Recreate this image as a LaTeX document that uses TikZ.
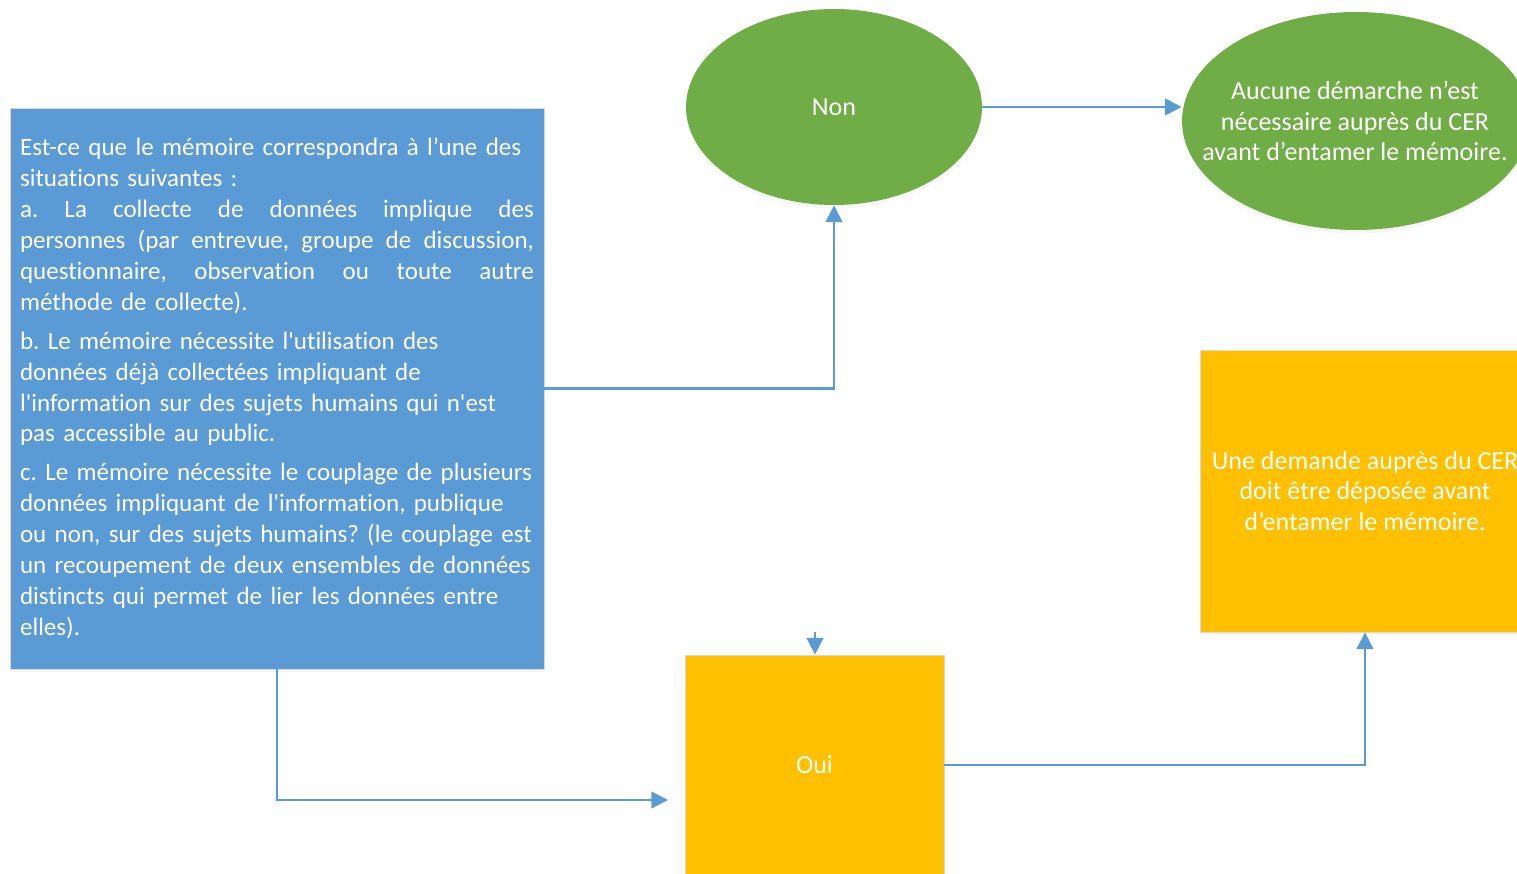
\documentclass[tikz,border=0pt]{standalone}
\usepackage{fontspec}
\setmainfont{Carlito}[Ligatures=NoCommon]
\usetikzlibrary{arrows.meta,shapes.geometric,shadows}
\definecolor{cblue}{HTML}{5B9BD5}
\definecolor{cgreen}{HTML}{70AD47}
\definecolor{cyell}{HTML}{FFC000}
\newcommand{\jline}[1]{\leavevmode\hbox to 10.28cm{#1}}
\begin{document}
\frenchspacing
\begin{tikzpicture}[x=0.02cm,y=-0.02cm,
  smallfont/.style={text=white, font=\fontsize{14.25}{17.6}\selectfont\frenchspacing},
  bigfont/.style={text=white, font=\fontsize{14.8}{17.6}\selectfont\frenchspacing},
  shad/.style={drop shadow={opacity=0.07, shadow xshift=0pt, shadow yshift=-2pt}},
  box/.style={rectangle, inner sep=0pt, draw=black!15, line width=0.5pt, shad},
  ell/.style={ellipse, inner sep=0pt, fill=cgreen, draw=none, shad},
  lbl/.style={bigfont, inner sep=0pt, align=center},
  conn/.style={draw=cblue, line width=1.2pt, -{Triangle[length=9.5pt,width=9.5pt]}}]
\useasboundingbox (0,0) rectangle (1517,874);
\clip (0,0) rectangle (1517,874);

\node[box, smallfont, fill=cblue, minimum width=10.68cm, minimum height=11.22cm, align=left, text width=10.28cm] (q) at (277,388.5) {%
Est-ce que le mémoire correspondra à l’une des\\
situations suivantes :\\
\jline{a.\hfill La\hfill collecte\hfill de\hfill données\hfill implique\hfill des}\\
\jline{personnes\hfill (par\hfill entrevue,\hfill groupe\hfill de\hfill discussion,}\\
\jline{questionnaire,\hfill observation\hfill ou\hfill toute\hfill autre}\\
méthode de collecte).\\[4.5pt]
b. Le mémoire nécessite l\textquotesingle utilisation des\\
données déjà collectées impliquant de\\
l\textquotesingle information sur des sujets humains qui n\textquotesingle est\\
pas accessible au public.\\[4.5pt]
c. Le mémoire nécessite le couplage de plusieurs\\
données impliquant de l\textquotesingle information, publique\\
ou non, sur des sujets humains? (le couplage est\\
un recoupement de deux ensembles de données\\
distincts qui permet de lier les données entre\\
elles).};

\node[ell, bigfont, minimum width=5.92cm, minimum height=3.92cm] (non) at (834,107) {Non};

\node[ell, minimum width=6.96cm, minimum height=4.36cm] (aucune) at (1356,121) {};
\node[lbl] (aucunetxt) at (1355,121)
  {Aucune démarche n’est\\nécessaire auprès du CER\\avant d’entamer le mémoire.};

\node[box, fill=cyell, minimum width=6.6cm, minimum height=5.64cm] (dem) at (1365,491) {};
\node[lbl] (demtxt) at (1365,491)
  {Une demande auprès du CER\\doit être déposée avant\\d’entamer le mémoire.};

\node[box, bigfont, fill=cyell, minimum width=5.18cm, minimum height=4.4cm] (oui) at (814.5,765) {Oui};

\coordinate (ouiin) at (668,800);
\coordinate (stub) at (815,632);

\draw[conn] (q.east) -| (non.south);
\draw[conn] (non.east) -- (non.east -| aucune.west);
\draw[conn] (q.south) |- (ouiin);
\draw[conn] (stub) -- (stub |- oui.north);
\draw[conn] (oui.east) -| (dem.south);
\end{tikzpicture}
\end{document}
